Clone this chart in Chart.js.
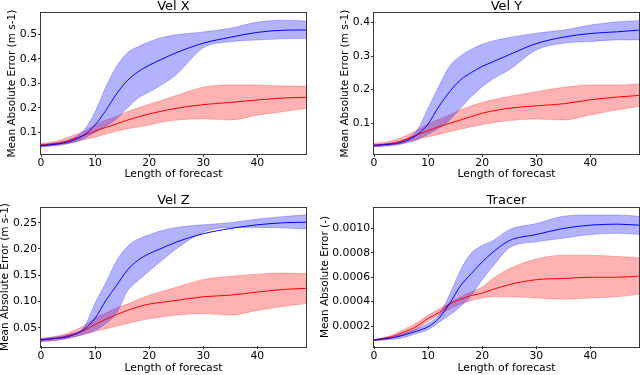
<!DOCTYPE html>
<html>
<head>
<meta charset="utf-8">
<script src="https://cdn.jsdelivr.net/npm/chart.js@4.4.1/dist/chart.umd.min.js"></script>
<style>
  body { margin: 0; background: #fff; }
  #wrap { position: relative; width: 640px; height: 375px; overflow: hidden; }
  canvas { position: absolute; }
</style>
</head>
<body>
<div id="wrap">
  <canvas id="velX" width="320" height="187" style="left:0px;top:0px"></canvas>
  <canvas id="velY" width="320" height="187" style="left:320px;top:0px"></canvas>
  <canvas id="velZ" width="320" height="188" style="left:0px;top:187px"></canvas>
  <canvas id="tracer" width="320" height="188" style="left:320px;top:187px"></canvas>
</div>
<script>
var steps = [0, 3, 5, 8, 10, 12, 14, 16, 18, 20, 22, 25, 30, 35, 40, 45, 49];

// Vel X
var velXBlue    = [0.045, 0.052, 0.060, 0.090, 0.130, 0.190, 0.258, 0.312, 0.348, 0.374, 0.395, 0.425, 0.464, 0.488, 0.508, 0.517, 0.518];
var velXBlueUp  = [0.050, 0.058, 0.068, 0.110, 0.184, 0.286, 0.370, 0.425, 0.450, 0.470, 0.485, 0.498, 0.510, 0.525, 0.550, 0.558, 0.555];
var velXBlueLow = [0.040, 0.046, 0.053, 0.075, 0.100, 0.125, 0.155, 0.200, 0.240, 0.265, 0.290, 0.335, 0.445, 0.470, 0.477, 0.482, 0.484];
var velXRed     = [0.048, 0.055, 0.065, 0.088, 0.105, 0.120, 0.135, 0.150, 0.163, 0.175, 0.185, 0.198, 0.213, 0.222, 0.232, 0.240, 0.243];
var velXRedUp   = [0.055, 0.065, 0.080, 0.105, 0.130, 0.150, 0.165, 0.185, 0.200, 0.215, 0.228, 0.250, 0.284, 0.293, 0.293, 0.289, 0.289];
var velXRedLow  = [0.042, 0.048, 0.055, 0.070, 0.080, 0.093, 0.105, 0.115, 0.122, 0.130, 0.140, 0.150, 0.155, 0.150, 0.170, 0.185, 0.198];

// Vel Y
var velYBlue    = [0.034, 0.038, 0.043, 0.066, 0.098, 0.150, 0.194, 0.229, 0.251, 0.269, 0.283, 0.304, 0.337, 0.356, 0.367, 0.372, 0.377];
var velYBlueUp  = [0.036, 0.041, 0.047, 0.080, 0.145, 0.210, 0.270, 0.300, 0.320, 0.335, 0.345, 0.355, 0.368, 0.377, 0.392, 0.402, 0.405];
var velYBlueLow = [0.030, 0.034, 0.038, 0.052, 0.068, 0.085, 0.110, 0.145, 0.180, 0.209, 0.232, 0.259, 0.318, 0.338, 0.343, 0.348, 0.348];
var velYRed     = [0.035, 0.040, 0.047, 0.066, 0.078, 0.090, 0.100, 0.110, 0.120, 0.130, 0.137, 0.145, 0.152, 0.158, 0.170, 0.178, 0.183];
var velYRedUp   = [0.040, 0.047, 0.057, 0.080, 0.098, 0.112, 0.125, 0.140, 0.152, 0.162, 0.170, 0.180, 0.194, 0.207, 0.214, 0.214, 0.217];
var velYRedLow  = [0.030, 0.034, 0.040, 0.052, 0.060, 0.067, 0.075, 0.082, 0.090, 0.096, 0.102, 0.108, 0.113, 0.110, 0.125, 0.140, 0.150];

// Vel Z
var velZBlue    = [0.027, 0.030, 0.033, 0.047, 0.068, 0.102, 0.131, 0.160, 0.179, 0.191, 0.200, 0.213, 0.229, 0.239, 0.246, 0.250, 0.251];
var velZBlueUp  = [0.029, 0.033, 0.037, 0.052, 0.097, 0.136, 0.178, 0.205, 0.219, 0.227, 0.234, 0.241, 0.246, 0.250, 0.257, 0.262, 0.265];
var velZBlueLow = [0.024, 0.027, 0.030, 0.038, 0.045, 0.058, 0.078, 0.120, 0.140, 0.158, 0.175, 0.200, 0.232, 0.241, 0.241, 0.240, 0.238];
var velZRed     = [0.027, 0.030, 0.035, 0.045, 0.056, 0.066, 0.075, 0.083, 0.090, 0.095, 0.098, 0.102, 0.109, 0.112, 0.118, 0.123, 0.125];
var velZRedUp   = [0.030, 0.034, 0.040, 0.054, 0.068, 0.078, 0.088, 0.095, 0.104, 0.112, 0.118, 0.127, 0.142, 0.148, 0.152, 0.154, 0.153];
var velZRedLow  = [0.023, 0.026, 0.030, 0.037, 0.043, 0.048, 0.053, 0.058, 0.063, 0.067, 0.070, 0.074, 0.077, 0.074, 0.083, 0.091, 0.096];

// Tracer
var tracerBlue    = [0.000085, 0.00010, 0.00012, 0.00016, 0.000194, 0.000263, 0.000386, 0.000530, 0.00063, 0.000725, 0.000805, 0.00090, 0.00095, 0.00100, 0.001027, 0.001035, 0.001027];
var tracerBlueUp  = [0.000090, 0.00011, 0.00013, 0.00018, 0.00022, 0.00029, 0.00046, 0.00066, 0.00080, 0.00086, 0.00090, 0.00099, 0.00104, 0.00110, 0.00111, 0.00111, 0.00110];
var tracerBlueLow = [0.000080, 0.00009, 0.00010, 0.00014, 0.00017, 0.00023, 0.00029, 0.00036, 0.00045, 0.00058, 0.00069, 0.00084, 0.00089, 0.00092, 0.00095, 0.00096, 0.00095];
var tracerRed     = [0.000085, 0.00011, 0.00014, 0.00020, 0.000263, 0.00031, 0.00038, 0.00042, 0.00045, 0.00047, 0.00050, 0.00054, 0.00058, 0.00059, 0.00060, 0.00060, 0.00061];
var tracerRedUp   = [0.000090, 0.00012, 0.00016, 0.00023, 0.00029, 0.00034, 0.00039, 0.00044, 0.00048, 0.00052, 0.00059, 0.00067, 0.00075, 0.00078, 0.00078, 0.00077, 0.00076];
var tracerRedLow  = [0.000080, 0.00010, 0.00012, 0.00018, 0.00024, 0.00029, 0.00034, 0.00038, 0.00041, 0.00043, 0.00044, 0.00044, 0.00043, 0.00042, 0.00043, 0.00044, 0.00046];

Chart.defaults.font.family = "'DejaVu Sans', sans-serif";
Chart.defaults.color = "#000";

function points(ys) {
  return steps.map(function (x, i) { return { x: x, y: ys[i] }; });
}

// box round the plot area, like matplotlib spines
var frame = {
  id: "frame",
  afterDraw: function (chart) {
    var a = chart.chartArea;
    var ctx = chart.ctx;
    ctx.save();
    ctx.strokeStyle = "#3a3a3a";
    ctx.lineWidth = 1;
    ctx.strokeRect(Math.round(a.left) - 0.5, Math.round(a.top) - 0.5,
      Math.round(a.right - a.left) + 1, Math.round(a.bottom - a.top) + 1);
    ctx.restore();
  }
};

function line(data, color, width, fill) {
  return {
    data: points(data),
    borderColor: color,
    backgroundColor: color,
    borderWidth: width,
    pointRadius: 0,
    fill: fill,
    cubicInterpolationMode: "monotone"
  };
}

function panel(id, title, yLabel, s, y, lay) {
  var blueBand = "rgba(0,0,255,0.3)";
  var redBand = "rgba(255,0,0,0.3)";
  var datasets = [
    line(s.blue, "#0000ff", 1, false),
    line(s.red, "#ff0000", 1, false),
    line(s.blueUp, blueBand, 0.8, "+1"),
    line(s.blueLow, blueBand, 0.8, false),
    line(s.redUp, redBand, 0.8, "+1"),
    line(s.redLow, redBand, 0.8, false)
  ];

  return new Chart(document.getElementById(id), {
    type: "line",
    data: { datasets: datasets },
    plugins: [frame],
    options: {
      responsive: false,
      animation: false,
      layout: { padding: { left: 0, right: lay.padRight, top: 0, bottom: 0 } },
      plugins: {
        legend: { display: false },
        tooltip: { enabled: false },
        title: {
          display: true,
          text: title,
          fullSize: false,
          color: "#000",
          font: { size: 13, weight: "normal", lineHeight: 1 },
          padding: { top: lay.titleTop, bottom: lay.titleBottom }
        }
      },
      scales: {
        x: {
          type: "linear",
          min: 0,
          max: 49,
          ticks: { stepSize: 10, includeBounds: false, padding: 0, font: { size: 10.8 }, maxRotation: 0 },
          grid: { drawOnChartArea: false, drawTicks: true, tickLength: 3, color: "#333" },
          border: { display: false },
          title: {
            display: true,
            text: "Length of forecast",
            font: { size: 10.8, lineHeight: 1.2 },
            padding: { top: 0, bottom: lay.xTitlePad }
          },
          afterFit: function (sc) { sc.height = lay.xHeight; }
        },
        y: {
          min: y.min,
          max: y.max,
          ticks: {
            stepSize: y.step,
            includeBounds: false,
            padding: 1,
            font: { size: 10.8 },
            callback: function (v) { return v.toFixed(y.dec); }
          },
          grid: { drawOnChartArea: false, drawTicks: true, tickLength: 3, color: "#333" },
          border: { display: false },
          title: {
            display: true,
            text: yLabel,
            font: { size: 10.5, lineHeight: 1 },
            padding: { top: lay.yTitlePad, bottom: 0 }
          },
          afterFit: function (sc) { sc.width = lay.yWidth; }
        }
      }
    }
  });
}

panel("velX", "Vel X", "Mean Absolute Error (m s-1)",
  { blue: velXBlue, blueUp: velXBlueUp, blueLow: velXBlueLow, red: velXRed, redUp: velXRedUp, redLow: velXRedLow },
  { min: 0.0114, max: 0.586, step: 0.1, dec: 1 },
  { yWidth: 41, padRight: 14, titleTop: 0, titleBottom: 0.3, xHeight: 33, xTitlePad: 6.8, yTitlePad: 7 });

panel("velY", "Vel Y", "Mean Absolute Error (m s-1)",
  { blue: velYBlue, blueUp: velYBlueUp, blueLow: velYBlueLow, red: velYRed, redUp: velYRedUp, redLow: velYRedLow },
  { min: 0.0088, max: 0.427, step: 0.1, dec: 1 },
  { yWidth: 54, padRight: 1, titleTop: 0, titleBottom: 0.3, xHeight: 33, xTitlePad: 6.8, yTitlePad: 19.8 });

panel("velZ", "Vel Z", "Mean Absolute Error (m s-1)",
  { blue: velZBlue, blueUp: velZBlueUp, blueLow: velZBlueLow, red: velZRed, redUp: velZRedUp, redLow: velZRedLow },
  { min: 0.0146, max: 0.2786, step: 0.05, dec: 2 },
  { yWidth: 41, padRight: 14, titleTop: 7.4, titleBottom: 0.3, xHeight: 28.7, xTitlePad: 0.8, yTitlePad: 0 });

panel("tracer", "Tracer", "Mean Absolute Error (-)",
  { blue: tracerBlue, blueUp: tracerBlueUp, blueLow: tracerBlueLow, red: tracerRed, redUp: tracerRedUp, redLow: tracerRedLow },
  { min: 0.000034, max: 0.00117, step: 0.0002, dec: 4 },
  { yWidth: 54, padRight: 1, titleTop: 7.4, titleBottom: 0.3, xHeight: 28.7, xTitlePad: 0.8, yTitlePad: 0 });
</script>
</body>
</html>
